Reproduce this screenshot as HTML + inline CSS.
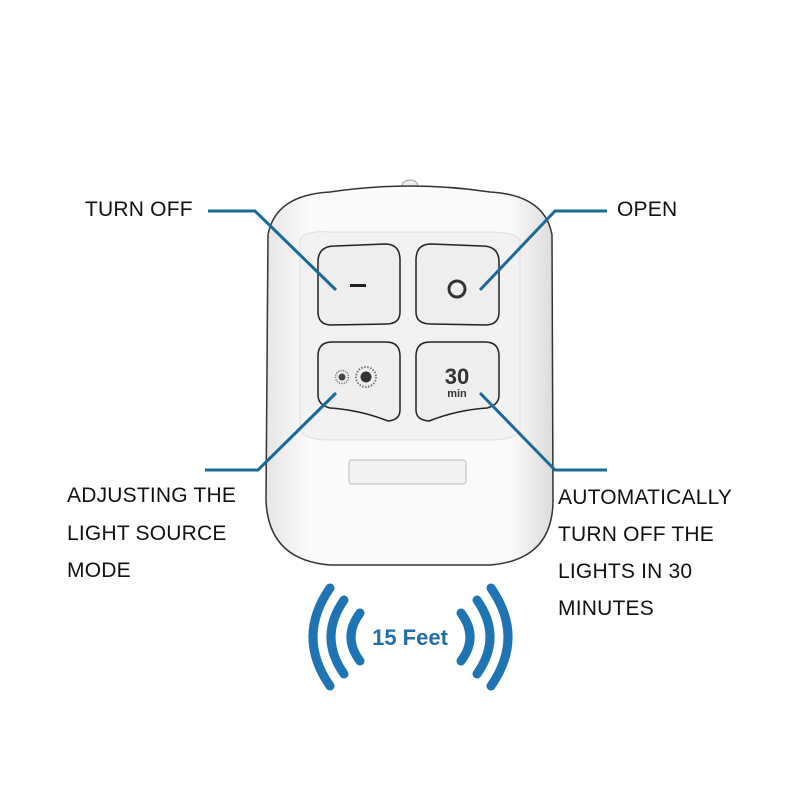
<!DOCTYPE html>
<html><head><style>
body{margin:0;background:#fff;width:800px;height:800px;overflow:hidden;font-family:"Liberation Sans",sans-serif}
.t{position:absolute;font-size:21px;color:#111;letter-spacing:0.2px}
</style></head><body>
<svg width="800" height="800" style="position:absolute;left:0;top:0">
<defs><linearGradient id="g" x1="0" x2="1"><stop offset="0" stop-color="#e6e6e6"/><stop offset="0.15" stop-color="#fafafa"/><stop offset="0.85" stop-color="#fafafa"/><stop offset="1" stop-color="#dcdcdc"/></linearGradient></defs>
<ellipse cx="410" cy="186" rx="8" ry="6" fill="#eee" stroke="#999"/>
<path d="M268 235 Q275 195 330 192 Q410 180 490 192 Q545 195 552 235 L553 500 Q553 560 490 565 L330 565 Q268 560 266 500 Z" fill="url(#g)" stroke="#333" stroke-width="1.5"/>
<path d="M300 240 Q305 230 330 232 L490 232 Q515 232 520 240 L520 430 Q515 440 490 440 L330 440 Q305 440 300 430 Z" fill="#f2f2f2" stroke="#ddd"/>
<g fill="#eeeeee" stroke="#222" stroke-width="1.5">
<path d="M318 262 Q318 246 335 246 L385 244 Q400 244 400 260 L400 312 Q400 324 386 324 L330 325 Q318 324 318 312 Z"/>
<path d="M416 260 Q416 244 431 244 L482 246 Q499 246 499 262 L499 312 Q499 324 487 325 L431 324 Q416 324 416 312 Z"/>
<path d="M318 356 Q318 342 332 342 L386 342 Q400 342 400 356 L400 410 Q400 420 388 421 Q360 410 330 408 Q318 405 318 395 Z"/>
<path d="M416 356 Q416 342 430 342 L485 342 Q499 342 499 356 L499 395 Q499 405 487 408 Q457 410 429 421 Q416 420 416 410 Z"/>
</g>
<rect x="350" y="284" width="16" height="3" fill="#222"/>
<circle cx="457" cy="289" r="8" fill="none" stroke="#333" stroke-width="3"/>
<circle cx="342" cy="377" r="3.5" fill="#444"/><circle cx="366" cy="377" r="5.5" fill="#333"/>
<circle cx="366" cy="377" r="10" fill="none" stroke="#777" stroke-width="2" stroke-dasharray="1.5 1.5"/>
<circle cx="342" cy="377" r="6.5" fill="none" stroke="#777" stroke-width="1.5" stroke-dasharray="1.2 1.2"/>
<text x="457" y="384" text-anchor="middle" font-weight="bold" font-size="22" fill="#333" font-family="Liberation Sans">30</text>
<text x="457" y="397" text-anchor="middle" font-weight="bold" font-size="11" fill="#333" font-family="Liberation Sans">min</text>
<rect x="349" y="460" width="117" height="24" rx="3" fill="#f2f2f2" stroke="#bbb"/>
<g stroke="#1a6a98" stroke-width="3" fill="none">
<path d="M208 211 L255 211 L336 290"/>
<path d="M607 211 L555 211 L480 290"/>
<path d="M205 470 L258 470 L336 393"/>
<path d="M607 470 L555 470 L480 393"/>
</g>
<g stroke="#1f74b4" stroke-width="9" fill="none" stroke-linecap="round">
<path d="M360 613 Q342 637 360 661"/>
<path d="M344 600 Q318 637 344 674"/>
<path d="M330 588 Q296 637 330 686"/>
<path d="M461 613 Q479 637 461 661"/>
<path d="M477 600 Q503 637 477 674"/>
<path d="M491 588 Q525 637 491 686"/>
</g>
<text x="410" y="645" text-anchor="middle" font-weight="bold" font-size="22" fill="#1f6ea8" font-family="Liberation Sans">15 Feet</text>
</svg>
<div class="t" style="left:85px;top:198px">TURN OFF</div>
<div class="t" style="left:617px;top:198px">OPEN</div>
<div class="t" style="left:67px;top:477px;line-height:37.5px">ADJUSTING THE<br>LIGHT SOURCE<br>MODE</div>
<div class="t" style="left:558px;top:479px;line-height:37px">AUTOMATICALLY<br>TURN OFF THE<br>LIGHTS IN 30<br>MINUTES</div>
</body></html>
